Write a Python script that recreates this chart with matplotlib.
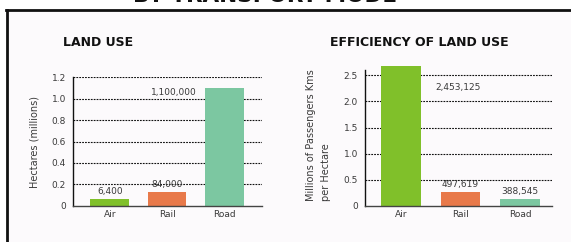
import matplotlib
matplotlib.use('Agg')
from matplotlib import pyplot as plt
from matplotlib.patches import Rectangle
from matplotlib.lines import Line2D

# Data
modes = ['Air', 'Rail', 'Road']

# Land use, hectares (millions) as drawn, plus printed labels
land_use = [0.0625, 0.128, 1.1]
land_use_labels = ['6,400', '84,000', '1,100,000']
land_use_ticks = [0, 0.2, 0.4, 0.6, 0.8, 1.0, 1.2]

# Efficiency, millions of passenger kms per hectare as drawn, plus printed labels
efficiency = [2.68, 0.26, 0.13]
efficiency_labels = ['2,453,125', '497,619', '388,545']
efficiency_ticks = [0, 0.5, 1.0, 1.5, 2.0, 2.5]

BAR_COLORS = ['#80c02a', '#e8794a', '#7cc7a1']
BG = '#fcfafc'
TEXT = '#3a3a3a'
W, H = 571, 242

plt.rcParams['font.family'] = ['DejaVu Sans']

fig = plt.figure(figsize=(W / 100, H / 100), dpi=100)
fig.patch.set_facecolor('white')

# Panel background and the black frame (top and left edges)
fig.patches.append(Rectangle((7 / W, 0), 1, 1 - 10 / H, transform=fig.transFigure,
                             facecolor=BG, edgecolor='none', zorder=-5))
fig.lines.append(Line2D([7 / W, 7 / W], [0, 1 - 9.5 / H], transform=fig.transFigure,
                        color='#111111', linewidth=2.0, zorder=-4))
fig.lines.append(Line2D([6 / W, 1], [1 - 9.5 / H, 1 - 9.5 / H], transform=fig.transFigure,
                        color='#111111', linewidth=2.0, zorder=-4))

# Clipped heading at the very top
fig.text(265 / W, 1 - 1.5 / H, 'BY TRANSPORT MODE', ha='center', va='baseline',
         fontsize=15.5, fontweight='heavy', color='#111111')

fig.text(63 / W, 1 - 43 / H, 'LAND USE', ha='left', va='center',
         fontsize=9, fontweight='heavy', color='#111111')
fig.text(330 / W, 1 - 43 / H, 'EFFICIENCY OF LAND USE', ha='left', va='center',
         fontsize=9, fontweight='heavy', color='#111111')


def style_axes(ax, ticks, top):
    ax.set_facecolor('none')
    for side in ['top', 'right']:
        ax.spines[side].set_visible(False)
    ax.spines['left'].set_color('#111111')
    ax.spines['left'].set_linewidth(1.0)
    ax.spines['left'].set_bounds(0, top)
    ax.spines['bottom'].set_color('#444444')
    ax.spines['bottom'].set_linewidth(1.0)
    ax.set_yticks(ticks)
    ax.set_yticklabels([('%.1f' % t) if t else '0' for t in ticks])
    for t in ticks[1:]:
        ax.axhline(t, color='#111111', linestyle=(0, (1.6, 1.0)), linewidth=0.8, zorder=1)
    ax.tick_params(axis='both', length=0, labelsize=6.5, labelcolor=TEXT)
    ax.tick_params(axis='y', pad=5)
    ax.tick_params(axis='x', pad=3)
    ax.set_xticks(range(len(modes)))
    ax.set_xticklabels(modes)


# Left chart: land use
ax1 = fig.add_axes([73 / W, 1 - 205.7 / H, 189 / W, 128.4 / H])
ax1.bar(range(len(modes)), land_use, width=0.68, color=BAR_COLORS, zorder=2)
ax1.set_xlim(-0.644, 2.66)
ax1.set_ylim(0, 1.2)
style_axes(ax1, land_use_ticks, 1.2)
ax1.set_ylabel('Hectares (millions)', fontsize=7, color=TEXT, labelpad=9)
for i in range(2):
    ax1.annotate(land_use_labels[i], (i, land_use[i]), xytext=(0, 2),
                 textcoords='offset points', ha='center', va='bottom',
                 fontsize=6.5, color=TEXT, zorder=3)
ax1.annotate(land_use_labels[2], (2 - 0.34, land_use[2]), xytext=(-6, -3),
             textcoords='offset points', ha='right', va='center',
             fontsize=6.5, color=TEXT, zorder=3)

# Right chart: efficiency of land use
ax2 = fig.add_axes([365 / W, 1 - 205.7 / H, 187 / W, 140.7 / H])
ax2.bar(range(len(modes)), efficiency, width=0.665, color=BAR_COLORS, zorder=2)
ax2.set_xlim(-0.61, 2.54)
ax2.set_ylim(0, 2.7)
style_axes(ax2, efficiency_ticks, 2.6)
ax2.set_ylabel('Millions of Passengers Kms\nper Hectare', fontsize=7, color=TEXT,
               labelpad=9, ha='center', multialignment='left', linespacing=1.6)
ax2.annotate(efficiency_labels[0], (0.333, efficiency[0]), xytext=(10, -12),
             textcoords='offset points', ha='left', va='top',
             fontsize=6.5, color=TEXT, zorder=3)
for i in range(1, 3):
    ax2.annotate(efficiency_labels[i], (i, efficiency[i]), xytext=(0, 2),
                 textcoords='offset points', ha='center', va='bottom',
                 fontsize=6.5, color=TEXT, zorder=3)

fig.savefig('out.png', dpi=100, facecolor=fig.get_facecolor())
